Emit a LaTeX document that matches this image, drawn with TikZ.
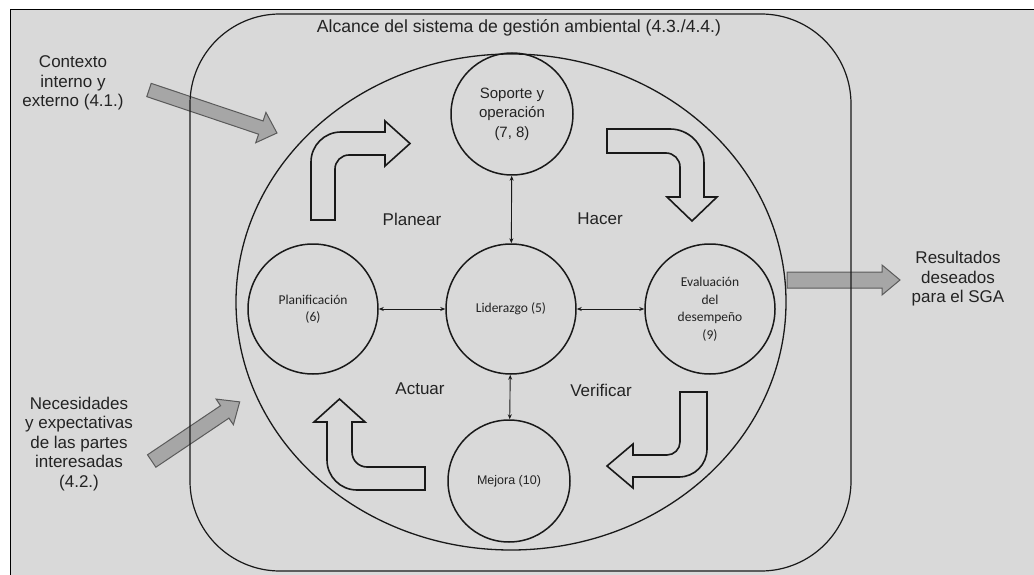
\documentclass[tikz,border=0pt]{standalone}
\usepackage{fontspec}
\setmainfont{Liberation Sans}
\newfontfamily\carlito{Carlito}
\usetikzlibrary{arrows.meta}
\definecolor{bggray}{RGB}{217,217,217}
\definecolor{arrowfill}{RGB}{166,166,166}
\definecolor{arrowline}{RGB}{90,90,90}
\definecolor{txt}{RGB}{35,35,35}
\begin{document}
\begin{tikzpicture}[x=1pt,y=-1pt,
  garrow/.style={fill=arrowfill,draw=arrowline,line width=1pt,line join=miter},
  uarrow/.style={draw=black!90,line width=1.6pt,line join=miter},
  circ/.style={circle,draw=black!90,line width=1.5pt,inner sep=0pt,align=center,text=txt},
  link/.style={{Stealth[length=5pt,width=4pt]}-{Stealth[length=5pt,width=4pt]},line width=0.9pt,black!90},
  lbl/.style={text=txt,font=\fontsize{17}{19.5}\selectfont,align=center,inner sep=0pt}]
\useasboundingbox (0,0) rectangle (1034,575);
\fill[white] (0,0) rectangle (1034,575);
\fill[bggray] (10,10) rectangle (1034,575);
\draw[line width=1pt,black] (1034,10) -- (10,10) -- (10,575);

% grey input/output arrows
\begin{scope}[shift={(149,90)},rotate=-18.57]
\draw[garrow] (0pt,7pt) -- (118pt,7pt) -- (118pt,16pt) -- (135pt,0pt) -- (118pt,-16pt) -- (118pt,-7pt) -- (0pt,-7pt) -- cycle;
\end{scope}
\begin{scope}[shift={(151.7,461)},rotate=33.9]
\draw[garrow] (0pt,7.5pt) -- (88pt,7.5pt) -- (88pt,15.5pt) -- (106pt,0pt) -- (88pt,-15.5pt) -- (88pt,-7.5pt) -- (0pt,-7.5pt) -- cycle;
\end{scope}
\begin{scope}[shift={(787,280)}]
\draw[garrow] (0pt,8pt) -- (95pt,8pt) -- (95pt,15pt) -- (113pt,0pt) -- (95pt,-15pt) -- (95pt,-8pt) -- (0pt,-8pt) -- cycle;
\end{scope}

% scope boundary
\draw[line width=1.2pt,black!90,rounded corners=90pt] (190,14) rectangle (851,571);
\node[lbl,font=\fontsize{17.6}{20}\selectfont] (title) at (519,28) {Alcance del sistema de gestión ambiental (4.3./4.4.)};

% big ellipse
\draw[line width=1.3pt,black!90] (511,302) ellipse [x radius=275pt, y radius=248pt];

% outer labels
\node[lbl] (ctx) at (73,83) {Contexto\\interno y\\externo (4.1.)};
\node[lbl] (nec) at (79,444) {Necesidades\\y expectativas\\de las partes\\interesadas\\(4.2.)};
\node[lbl] (res) at (958,279) {Resultados\\deseados\\para el SGA};

% circles
\node[circ,minimum size=122pt,font=\fontsize{15}{19.5}\selectfont] (sop) at (512,114) {Soporte y\\operación\\(7, 8)};
\node[circ,minimum size=130pt,font=\carlito\fontsize{13.5}{17.5}\selectfont] (lid) at (511,309) {Liderazgo (5)};
\node[circ,minimum size=130pt,font=\carlito\fontsize{13.5}{17.5}\selectfont] (pla) at (313,309) {Planificación\\(6)};
\node[circ,minimum size=130pt,font=\carlito\fontsize{13.5}{17.5}\selectfont] (eva) at (710,309) {Evaluación\\del\\desempeño\\(9)};
\node[circ,minimum size=122pt,font=\fontsize{12.5}{15}\selectfont] (mej) at (509,481) {Mejora (10)};

\draw[link] (sop) -- (lid);
\draw[link] (lid) -- (mej);
\draw[link] (pla) -- (lid);
\draw[link] (lid) -- (eva);

% PDCA labels
\node[lbl] (plan) at (412,219) {Planear};
\node[lbl] (hac) at (600,219) {Hacer};
\node[lbl] (act) at (420,389) {Actuar};
\node[lbl] (ver) at (601,390) {Verificar};

% hollow U-turn arrows
\draw[uarrow] (311,220) -- (311,162) .. controls (311,145.4) and (324.4,132) .. (341,132) -- (385,132) -- (385,121) -- (410,143.5) -- (385,166) -- (385,155) -- (349,155) .. controls (341.3,155) and (335,161.3) .. (335,169) -- (335,220) -- cycle;
\draw[uarrow] (607,129) -- (670,129) .. controls (688.8,129) and (704,144.2) .. (704,163) -- (704,197) -- (717,197) -- (692,221) -- (667,197) -- (680,197) -- (680,167) .. controls (680,159.3) and (673.7,153) .. (666,153) -- (607,153) -- cycle;
\draw[uarrow] (680,392) -- (707,392) -- (707,449) .. controls (707,464.5) and (694.5,477) .. (679,477) -- (633,477) -- (633,488) -- (607,466) -- (633,444) -- (633,455) -- (667,455) .. controls (674.2,455) and (680,449.2) .. (680,442) -- cycle;
\draw[uarrow] (425,467) -- (425,490) -- (357,490) .. controls (340.4,490) and (327,476.6) .. (327,460) -- (327,422) -- (314,422) -- (339.5,399) -- (365,422) -- (352,422) -- (352,452) .. controls (352,460.3) and (358.7,467) .. (367,467) -- cycle;
\end{tikzpicture}
\end{document}
